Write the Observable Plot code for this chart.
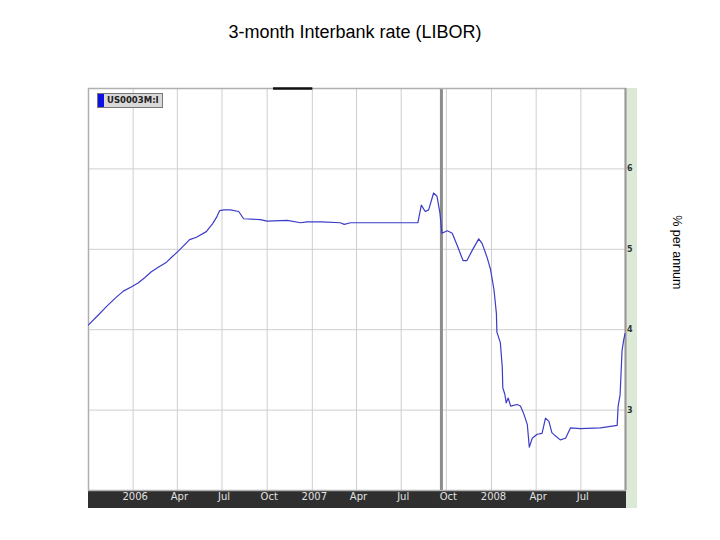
<!DOCTYPE html>
<html>
<head>
<meta charset="utf-8">
<script src="https://cdn.jsdelivr.net/npm/d3@7"></script>
<script src="https://cdn.jsdelivr.net/npm/@observablehq/plot@0.6"></script>
<style>
  body { margin: 0; background: #fff; font-family: "Liberation Sans", Arial, sans-serif; }
  #wrap { position: relative; width: 720px; height: 540px; overflow: hidden; }
  #title { position: absolute; left: 0; top: 0; width: 710px; height: 50px; line-height: 64px; text-align: center; font-size: 18px; color: #000; }
  #band { position: absolute; left: 88px; top: 490px; width: 538px; height: 18px; background: #2f2f2f; }
  #strip { position: absolute; left: 626px; top: 88px; width: 11px; height: 420px; background: #dde9d7; }
  #chart { position: absolute; left: 0; top: 50px; }
  #legend { position: absolute; left: 97px; top: 93px; width: 66px; height: 15px; background: #d9d9d9; border: 1px solid #777; box-sizing: border-box; font-family: "DejaVu Sans", Verdana, sans-serif; font-weight: bold; font-size: 8.5px; color: #222; line-height: 13px; padding-left: 9px; }
  #legend .sw { position: absolute; left: 0; top: 0; width: 6px; height: 13px; background: #1010e0; }
</style>
</head>
<body>
<div id="wrap">
  <div id="title">3-month Interbank rate (LIBOR)</div>
  <div id="band"></div>
  <div id="strip"></div>
  <div id="chart"></div>
  <div id="legend"><span class="sw"></span>US0003M:I</div>
</div>
<script>
// Data (3-month USD LIBOR, % per annum)
const dates = [
  "2005-10-02","2005-10-20","2005-11-08","2005-11-25","2005-12-12","2005-12-28",
  "2006-01-11","2006-01-25","2006-02-07","2006-02-22","2006-03-10","2006-03-22",
  "2006-04-05","2006-04-26","2006-05-10","2006-05-30","2006-06-12","2006-06-20",
  "2006-06-26","2006-07-05","2006-07-18","2006-08-04","2006-08-14","2006-09-17",
  "2006-10-01","2006-11-11","2006-12-08","2006-12-21","2007-01-20","2007-02-27",
  "2007-03-07","2007-03-20","2007-05-15","2007-07-01","2007-08-04","2007-08-11",
  "2007-08-19","2007-08-26","2007-09-05","2007-09-12","2007-09-18","2007-09-22",
  "2007-10-03","2007-10-13","2007-10-23","2007-11-04","2007-11-12","2007-11-23",
  "2007-12-06","2007-12-13","2007-12-23","2007-12-30","2008-01-06","2008-01-11",
  "2008-01-12","2008-01-19","2008-01-23","2008-01-24","2008-01-28","2008-01-31",
  "2008-02-04","2008-02-09","2008-02-22","2008-02-29","2008-03-07","2008-03-14",
  "2008-03-18","2008-03-24","2008-04-03","2008-04-13","2008-04-20","2008-04-27",
  "2008-05-03","2008-05-10","2008-05-20","2008-05-31","2008-06-10","2008-06-30",
  "2008-08-10","2008-09-13","2008-09-15","2008-09-19","2008-09-23","2008-09-26",
  "2008-09-29"
];
const rates = [
  4.06, 4.17, 4.29, 4.39, 4.48, 4.53,
  4.58, 4.65, 4.72, 4.78, 4.84, 4.91,
  4.99, 5.12, 5.15, 5.22, 5.32, 5.40,
  5.48, 5.49, 5.49, 5.47, 5.38, 5.37,
  5.35, 5.36, 5.33, 5.34, 5.34, 5.33,
  5.31, 5.33, 5.33, 5.33, 5.33, 5.55,
  5.47, 5.49, 5.70, 5.66, 5.45, 5.20,
  5.23, 5.20, 5.05, 4.86, 4.86, 4.99,
  5.13, 5.07, 4.90, 4.75, 4.50, 4.20,
  3.97, 3.84, 3.53, 3.28, 3.20, 3.09,
  3.15, 3.05, 3.07, 3.05, 2.95, 2.82,
  2.54, 2.65, 2.70, 2.71, 2.90, 2.86,
  2.72, 2.68, 2.63, 2.65, 2.78, 2.77,
  2.78, 2.81, 3.05, 3.19, 3.74, 3.86,
  3.95
];
const tickDates = ["2006-01-01","2006-04-01","2006-07-01","2006-10-01","2007-01-01","2007-04-01","2007-07-01","2007-10-01","2008-01-01","2008-04-01","2008-07-01"];
const tickLabels = ["2006","Apr","Jul","Oct","2007","Apr","Jul","Oct","2008","Apr","Jul"];
const yTicks = [3, 4, 5, 6];
const yTickLabels = ["3", "4", "5", "6"];
const markerDate = "2007-09-21";
const topMarker = [{start: "2006-10-14", end: "2007-01-02"}];
const xDomain = ["2005-10-02", "2008-09-30"];
const yDomain = [2, 7];
const yTitle = "% per annum";

const series = dates.map((d, i) => ({date: new Date(d), rate: rates[i]}));
const ticks = tickDates.map((d, i) => ({date: new Date(d), label: tickLabels[i]}));
const yt = yTicks.map((v, i) => ({v, label: yTickLabels[i]}));
const tm = topMarker.map(d => ({start: new Date(d.start), end: new Date(d.end)}));

const chart = Plot.plot({
  width: 720,
  height: 490,
  marginTop: 38,
  marginBottom: 50,
  marginLeft: 88,
  marginRight: 95,
  style: {background: "transparent", fontFamily: "'DejaVu Sans', Verdana, sans-serif", overflow: "visible"},
  x: {type: "utc", domain: xDomain.map(d => new Date(d)), axis: null},
  y: {domain: yDomain, axis: null},
  marks: [
    Plot.frame({fill: "white", stroke: "none"}),
    Plot.ruleY(yt, {y: "v", stroke: "#cfcfcf", strokeWidth: 1}),
    Plot.ruleX(ticks, {x: "date", stroke: "#cfcfcf", strokeWidth: 1}),
    Plot.ruleX([new Date(markerDate)], {x: d => d, stroke: "#8c8c8c", strokeWidth: 3}),
    Plot.frame({stroke: "#b0b0b0", strokeWidth: 1.5}),
    Plot.ruleX([new Date(xDomain[1])], {x: d => d, stroke: "#9a9a9a", strokeWidth: 2}),
    Plot.ruleY(tm, {y: () => yDomain[1], x1: "start", x2: "end", stroke: "#111", strokeWidth: 2.5}),
    Plot.line(series, {x: "date", y: "rate", stroke: "#3c3cc8", strokeWidth: 1.2}),
    Plot.text(ticks, {x: "date", text: "label", frameAnchor: "bottom", dy: 9, dx: 2, fill: "#e2e2e2", fontSize: 10}),
    Plot.text(yt, {y: "v", text: "label", frameAnchor: "right", dx: 7, fill: "#333", fontSize: 8, fontWeight: "bold"}),
    Plot.text([yTitle], {text: d => d, frameAnchor: "right", dx: 51, dy: 0, rotate: 90, fontSize: 12.5, fill: "#000", fontFamily: "'Liberation Sans', Arial, sans-serif"})
  ]
});
document.getElementById("chart").appendChild(chart);
</script>
</body>
</html>
